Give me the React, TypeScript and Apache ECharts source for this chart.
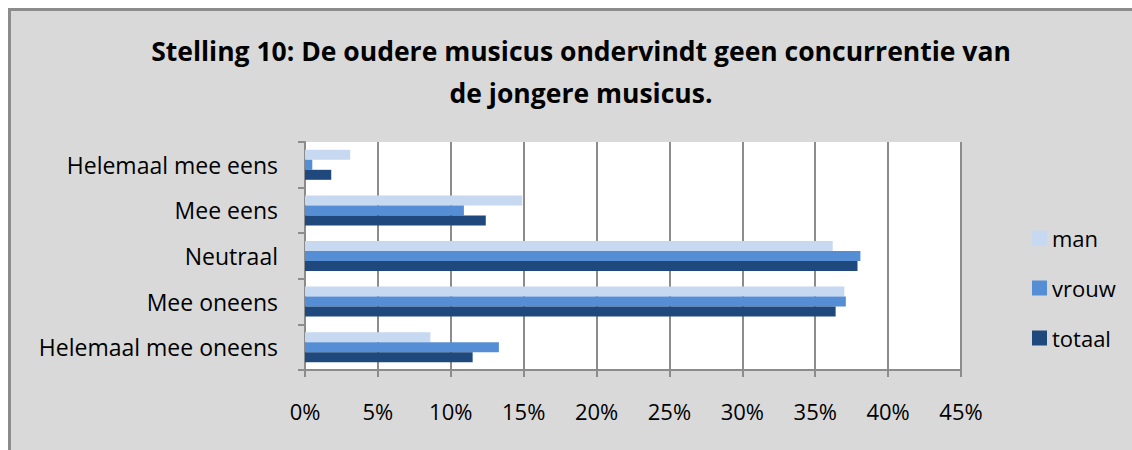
import React, { useEffect, useRef } from "react";
import * as echarts from "echarts";

const categories = [
  "Helemaal mee eens",
  "Mee eens",
  "Neutraal",
  "Mee oneens",
  "Helemaal mee oneens",
];
const man = [3.1, 14.9, 36.2, 37.0, 8.6];
const vrouw = [0.5, 10.9, 38.1, 37.1, 13.3];
const totaal = [1.8, 12.4, 37.9, 36.4, 11.5];
const seriesNames = ["man", "vrouw", "totaal"];
const colors = ["#c6d9f1", "#558ed5", "#1f497d"];
const titleText =
  "Stelling 10: De oudere musicus ondervindt geen concurrentie van\nde jongere musicus.";

const FONT = "'Open Sans', sans-serif";

export default function App() {
  const ref = useRef<HTMLDivElement>(null);
  useEffect(() => {
    if (!ref.current) return;
    const chart = echarts.init(ref.current, undefined, { renderer: "svg" });
    const data = [man, vrouw, totaal];
    chart.setOption({
      animation: false,
      backgroundColor: "#ffffff",
      textStyle: { fontFamily: FONT },
      graphic: [
        {
          type: "rect",
          z: -10,
          shape: { x: 9.5, y: 9.5, width: 1200, height: 600 },
          style: { fill: "#d9d9d9", stroke: "#8c8c8c", lineWidth: 3 },
        },
      ],
      title: {
        text: titleText,
        left: 576,
        top: 25,
        textAlign: "center",
        textStyle: {
          fontFamily: FONT,
          fontWeight: "bold",
          fontSize: 26.5,
          lineHeight: 42,
          color: "#000",
        },
      },
      legend: {
        orient: "vertical",
        left: 1027,
        top: 222,
        itemWidth: 15,
        itemHeight: 15,
        itemGap: 28,
        icon: "rect",
        data: seriesNames,
        textStyle: { fontFamily: FONT, fontSize: 22, color: "#000", lineHeight: 20 },
      },
      grid: {
        left: 305,
        right: 171,
        top: 142,
        bottom: 80,
        show: true,
        backgroundColor: "#ffffff",
        borderWidth: 0,
      },
      xAxis: {
        type: "value",
        min: 0,
        max: 45,
        interval: 5,
        axisLabel: {
          formatter: "{value}%",
          fontFamily: FONT,
          fontSize: 22,
          color: "#000",
          margin: 30,
        },
        axisLine: { show: true, lineStyle: { color: "#8c8c8c", width: 2 } },
        axisTick: { show: true, length: 7, lineStyle: { color: "#8c8c8c", width: 2 } },
        splitLine: { show: true, lineStyle: { color: "#8c8c8c", width: 2 } },
      },
      yAxis: {
        type: "category",
        inverse: true,
        data: categories,
        axisLabel: {
          fontFamily: FONT,
          fontSize: 23,
          color: "#000",
          margin: 27,
        },
        axisLine: { show: true, lineStyle: { color: "#8c8c8c", width: 2 } },
        axisTick: { show: true, length: 7, lineStyle: { color: "#8c8c8c", width: 2 } },
      },
      series: seriesNames.map((name, i) => ({
        name,
        type: "bar",
        data: data[i],
        barWidth: 10,
        barGap: "0%",
        itemStyle: { color: colors[i] },
      })),
    });
    return () => chart.dispose();
  }, []);
  return (
    <div
      ref={ref}
      style={{ position: "absolute", left: 0, top: 0, width: 1132, height: 450 }}
    />
  );
}
